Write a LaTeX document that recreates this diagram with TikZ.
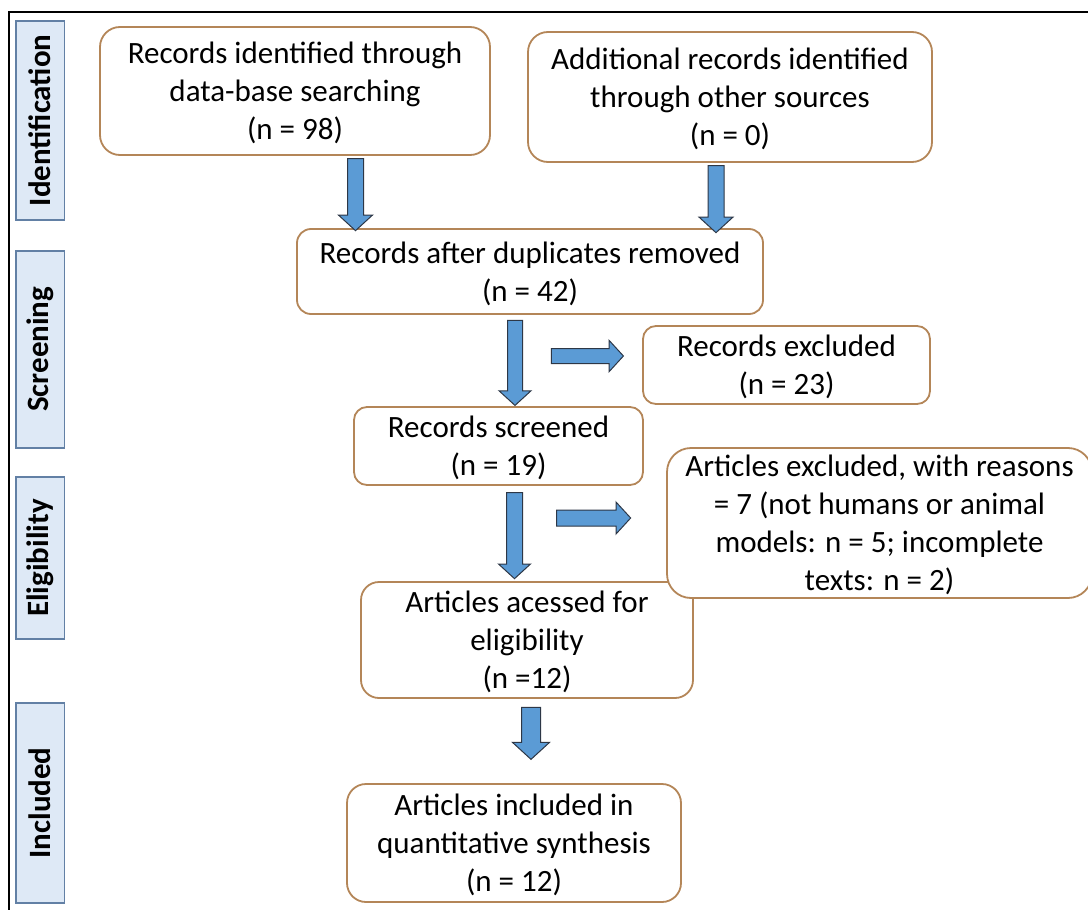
\documentclass[tikz,border=0pt]{standalone}
\usepackage{fontspec}
\setmainfont{Carlito}
\usetikzlibrary{shapes.arrows}
\definecolor{boxbrown}{RGB}{180,134,88}
\definecolor{phasefill}{RGB}{222,233,246}
\definecolor{phaseedge}{RGB}{98,128,165}
\definecolor{arrowblue}{RGB}{91,155,213}
\definecolor{arrowedge}{RGB}{45,55,70}
\begin{document}
\begin{tikzpicture}[x=1pt, y=-1pt,
  stage/.style={draw=boxbrown, line width=1.8pt, fill=white, rounded corners=16pt, align=center, inner sep=0pt, text depth=-6pt, font=\fontsize{31}{38}\selectfont},
  phase/.style={draw=phaseedge, line width=1.6pt, fill=phasefill, rotate=90, minimum height=48.6pt, inner sep=0pt, font=\bfseries\fontsize{31}{38}\selectfont},
  blockarrow/.style={single arrow, draw=arrowedge, line width=1pt, fill=arrowblue, inner xsep=0pt, text height=0pt, text depth=0pt, single arrow tip angle=95}]
\useasboundingbox (0,0) rectangle (1088,910);
% frame
\draw[line width=2.6pt] (1088,12) -- (9,12) -- (9,910);
% phases
\node[phase, minimum width=199pt] (ident) at (40,120.3) {Identification};
\node[phase, minimum width=197pt] (screen) at (40,349.3) {Screening};
\node[phase, minimum width=162pt] (elig) at (40,558) {Eligibility};
\node[phase, minimum width=200pt] (incl) at (40,803) {Included};
% boxes
\node[stage, rounded corners=20pt, minimum width=390pt, minimum height=128pt] (dbsearch) at (295,91) {Records identified through\\data-base searching\\(n = 98)};
\node[stage, rounded corners=20pt, minimum width=404pt, minimum height=130pt] (othersrc) at (730,97) {Additional records identified\\through other sources\\(n = 0)};
\node[stage, rounded corners=14pt, minimum width=466pt, minimum height=85pt] (dedup) at (530,271.5) {Records after duplicates removed\\(n = 42)};
\node[stage, rounded corners=13pt, minimum width=287pt, minimum height=78pt] (recexcl) at (786.5,365) {Records excluded\\(n = 23)};
\node[stage, rounded corners=13pt, minimum width=289pt, minimum height=78pt] (screened) at (498.5,446) {Records screened\\(n = 19)};
\node[stage, rounded corners=18pt, minimum width=332pt, minimum height=116pt] (assessed) at (527,640) {Articles acessed for\\eligibility\\(n =12)};
\node[stage, rounded corners=24pt, minimum width=425pt, minimum height=150pt] (artexcl) at (879.5,523) {Articles excluded, with reasons\\= 7 (not humans or animal\\models: n = 5; incomplete\\texts: n = 2)};
\node[stage, rounded corners=19pt, minimum width=334pt, minimum height=118pt] (included) at (514,843) {Articles included in\\quantitative synthesis\\(n = 12)};
% block arrows
\node[blockarrow, rotate=-90, minimum height=72pt, inner ysep=7.5pt, single arrow head extend=9pt] (a1) at (355.5,191) {};
\node[blockarrow, rotate=-90, minimum height=67pt, inner ysep=7.5pt, single arrow head extend=9pt] (a2) at (716,195.5) {};
\node[blockarrow, rotate=-90, minimum height=85pt, inner ysep=7pt, single arrow head extend=8.5pt] (a3) at (515,359.5) {};
\node[blockarrow, minimum height=72pt, inner ysep=7pt, single arrow head extend=8pt] (a4) at (584,356) {};
\node[blockarrow, rotate=-90, minimum height=86pt, inner ysep=7.5pt, single arrow head extend=8pt] (a5) at (514.5,532) {};
\node[blockarrow, minimum height=74pt, inner ysep=7.5pt, single arrow head extend=8pt] (a6) at (590,518) {};
\node[blockarrow, rotate=-90, minimum height=52pt, inner ysep=9pt, single arrow head extend=9pt] (a7) at (531,729) {};
\end{tikzpicture}
\end{document}
